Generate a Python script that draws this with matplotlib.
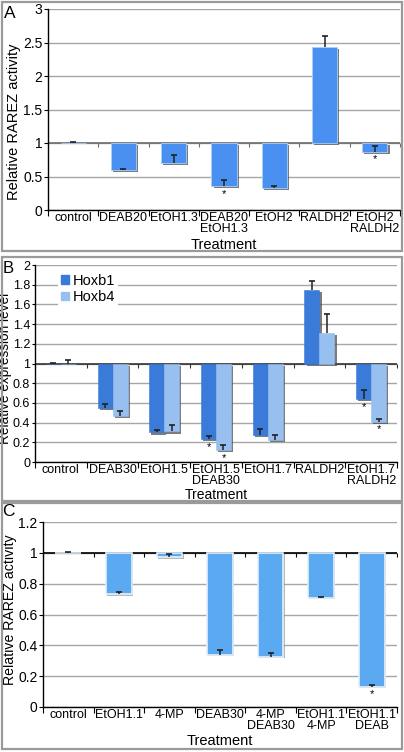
import numpy as np
import matplotlib
matplotlib.use('Agg')
import matplotlib.pyplot as plt
import matplotlib.patheffects as pe
from matplotlib.patches import Rectangle, Patch

plt.rcParams['font.family'] = ['Liberation Sans', 'DejaVu Sans']

W, H = 404, 752

# ---------------- data ----------------
# Panel A
a_categories = ['control', 'DEAB20', 'EtOH1.3', 'DEAB20\nEtOH1.3', 'EtOH2', 'RALDH2', 'EtOH2\nRALDH2']
a_values = [1.0, 0.60, 0.70, 0.36, 0.33, 2.43, 0.87]
a_err_top = [1.02, 0.615, 0.815, 0.45, 0.365, 2.60, 0.96]
a_signif = [False, False, False, True, False, False, True]
a_yticks = [0, 0.5, 1, 1.5, 2, 2.5, 3]
a_yticklabels = ['0', '0.5', '1', '1.5', '2', '2.5', '3']

# Panel B
b_categories = ['control', 'DEAB30', 'EtOH1.5', 'EtOH1.5\nDEAB30', 'EtOH1.7', 'RALDH2', 'EtOH1.7\nRALDH2']
b_series = ['Hoxb1', 'Hoxb4']
b_hoxb1 = [1.0, 0.55, 0.30, 0.23, 0.27, 1.75, 0.64]
b_hoxb1_err_top = [1.01, 0.59, 0.32, 0.26, 0.34, 1.84, 0.73]
b_hoxb4 = [1.0, 0.47, 0.31, 0.12, 0.22, 1.31, 0.41]
b_hoxb4_err_top = [1.04, 0.52, 0.38, 0.17, 0.27, 1.50, 0.44]
b_hoxb1_signif = [False, False, False, True, False, False, True]
b_hoxb4_signif = [False, False, False, True, False, False, True]
b_yticks = [0, 0.2, 0.4, 0.6, 0.8, 1, 1.2, 1.4, 1.6, 1.8, 2]
b_yticklabels = ['0', '0.2', '0.4', '0.6', '0.8', '1', '1.2', '1.4', '1.6', '1.8', '2']

# Panel C
c_categories = ['control', 'EtOH1.1', '4-MP', 'DEAB30', '4-MP\nDEAB30', 'EtOH1.1\n4-MP', 'EtOH1.1\nDEAB']
c_values = [1.0, 0.73, 0.97, 0.337, 0.324, 0.709, 0.132]
c_err_top = [1.005, 0.743, 0.99, 0.367, 0.35, 0.715, 0.14]
c_signif = [False, False, False, False, False, False, True]
c_yticks = [0, 0.2, 0.4, 0.6, 0.8, 1, 1.2]
c_yticklabels = ['0', '0.2', '0.4', '0.6', '0.8', '1', '1.2']

# ---------------- helpers ----------------
fig = plt.figure(figsize=(W / 100, H / 100), dpi=100)


def rect_px(left, top, right, bottom):
    return [left / W, 1 - bottom / H, (right - left) / W, (bottom - top) / H]


def fx(x):
    return x / W


def fy(y):
    return 1 - y / H


def panel_box(left, top, right, bottom):
    fig.patches.append(Rectangle((fx(left), fy(bottom)), (right - left) / W, (bottom - top) / H,
                                 transform=fig.transFigure, fill=False,
                                 edgecolor='#9a9a9a', linewidth=1.6, zorder=0))


def shadow():
    return [pe.SimplePatchShadow(offset=(1.5, -1.5), shadow_rgbFace='#505050', alpha=0.75), pe.Normal()]


def setup_axes(ax, ncat, ymax, yticks, yticklabels, cats, ytick_fs, baseline_color, ytick_len=3):
    ax.set_xlim(-0.5, ncat - 0.5)
    ax.set_ylim(0, ymax)
    for s in ['top', 'right']:
        ax.spines[s].set_visible(False)
    ax.spines['left'].set_color('black')
    ax.spines['bottom'].set_color('black')
    ax.spines['left'].set_linewidth(1.0)
    ax.spines['bottom'].set_linewidth(1.0)
    ax.set_yticks(yticks)
    ax.set_yticklabels(yticklabels, fontsize=ytick_fs)
    ax.tick_params(axis='y', length=ytick_len, width=0.8, pad=1, direction='out')
    ax.yaxis.grid(True, color='#a6a6a6', linewidth=1.0)
    ax.set_axisbelow(True)
    x = np.arange(ncat)
    ax.set_xticks(x)
    ax.set_xticklabels(cats, fontsize=9, linespacing=0.9)
    ax.tick_params(axis='x', which='major', length=0, pad=1.5)
    bounds = np.arange(ncat + 1) - 0.5
    ax.set_xticks(bounds, minor=True)
    ax.tick_params(axis='x', which='minor', length=4, width=0.8, direction='out')
    ax.axhline(1, color=baseline_color, linewidth=1.2, zorder=1.5)
    ax.plot(bounds, [1] * len(bounds), linestyle='none', marker=3, markersize=3,
            color=baseline_color, markeredgewidth=0.8, zorder=1.5)
    return x


def err_up(ax, xs, vals, tops, capw=5):
    ax.vlines(xs, vals, tops, color='#222222', linewidth=1.1, zorder=3)
    ax.plot(xs, tops, linestyle='none', marker='_', markersize=capw, markeredgewidth=1.2,
            color='#222222', zorder=3)


def stars(ax, xs, vals, flags):
    for xi, v, f in zip(xs, vals, flags):
        if f:
            ax.annotate('*', (xi, v), xytext=(0, -2), textcoords='offset points',
                        ha='center', va='top', fontsize=8)


# ---------------- Panel A ----------------
panel_box(2, 2, 402, 251)
axA = fig.add_axes(rect_px(48, 9, 400, 210))
xa = setup_axes(axA, len(a_categories), 3, a_yticks, a_yticklabels, a_categories, 10, '#6e6e6e')
va = np.array(a_values)
barsA = axA.bar(xa, va - 1, bottom=1, width=0.5, color='#4a90f0', edgecolor='#a8d0f8',
                linewidth=0.6, zorder=2)
for b in barsA:
    b.set_path_effects(shadow())
err_up(axA, xa, va, np.array(a_err_top))
stars(axA, xa, va, a_signif)
axA.set_xlabel('Treatment', fontsize=10.5)
axA.xaxis.set_label_coords(0.5, (210 - 238) / (210 - 9))
axA.set_ylabel('Relative RAREZ activity', fontsize=10.5)
axA.yaxis.set_label_coords(fx(14), fy(122), transform=fig.transFigure)
axA.yaxis.label.set_va('center')
fig.text(fx(4), fy(13), 'A', fontsize=12.5, ha='left', va='center')

# ---------------- Panel B ----------------
panel_box(2, 257, 402, 501)
axB = fig.add_axes(rect_px(35, 265, 397, 462))
xb = setup_axes(axB, len(b_categories), 2, b_yticks, b_yticklabels, b_categories, 9, '#333333',
                ytick_len=2.5)
w = 0.29
v1 = np.array(b_hoxb1)
v4 = np.array(b_hoxb4)
bars1 = axB.bar(xb - w / 2, v1 - 1, bottom=1, width=w, color='#3a7ad8', edgecolor='#3a7ad8',
                linewidth=0.4, zorder=2, label=b_series[0])
bars4 = axB.bar(xb + w / 2, v4 - 1, bottom=1, width=w, color='#97bff0', edgecolor='#97bff0',
                linewidth=0.4, zorder=2, label=b_series[1])
for b in list(bars1) + list(bars4):
    b.set_path_effects(shadow())
err_up(axB, xb - w / 2, v1, np.array(b_hoxb1_err_top))
err_up(axB, xb + w / 2, v4, np.array(b_hoxb4_err_top))
stars(axB, xb - w / 2, v1, b_hoxb1_signif)
stars(axB, xb + w / 2, v4, b_hoxb4_signif)
leg = axB.legend(handles=[Patch(color='#3a7ad8', label=b_series[0]),
                          Patch(color='#97bff0', label=b_series[1])],
                 loc='upper left', bbox_to_anchor=(fx(58), fy(271)), bbox_transform=fig.transFigure,
                 fontsize=10.5, frameon=True, framealpha=1, facecolor='white', edgecolor='none',
                 fancybox=False, handlelength=0.55, handleheight=0.55, handletextpad=0.25,
                 labelspacing=0.15, borderpad=0.2, borderaxespad=0)
leg.set_zorder(5)
axB.set_xlabel('Treatment', fontsize=10)
axB.xaxis.set_label_coords(0.5, (462 - 488) / (462 - 265))
axB.set_ylabel('Relative expression level', fontsize=9.8)
axB.yaxis.set_label_coords(fx(5.5), fy(368), transform=fig.transFigure)
axB.yaxis.label.set_va('center')
fig.text(fx(3), fy(268), 'B', fontsize=12, ha='left', va='center')

# ---------------- Panel C ----------------
panel_box(2, 503, 402, 749)
axC = fig.add_axes(rect_px(43, 522, 397, 707))
xc = setup_axes(axC, len(c_categories), 1.2, c_yticks, c_yticklabels, c_categories, 10, 'black')
vc = np.array(c_values)
barsC = axC.bar(xc, vc - 1, bottom=1, width=0.51, color='#5aa9f1', edgecolor='#e4f1fc',
                linewidth=1.2, zorder=2)
for b in barsC:
    b.set_path_effects([pe.SimplePatchShadow(offset=(1, -1), shadow_rgbFace='#8a8a8a', alpha=0.6),
                        pe.Normal()])
err_up(axC, xc, vc, np.array(c_err_top), capw=4)
stars(axC, xc, vc, c_signif)
axC.set_xlabel('Treatment', fontsize=10.5)
axC.xaxis.set_label_coords(0.5, (707 - 734) / (707 - 522))
axC.set_ylabel('Relative RAREZ activity', fontsize=10.2)
axC.yaxis.set_label_coords(fx(10), fy(610), transform=fig.transFigure)
axC.yaxis.label.set_va('center')
fig.text(fx(2), fy(511), 'C', fontsize=12.5, ha='left', va='center')

fig.savefig('out.png', dpi=100, facecolor='white')
